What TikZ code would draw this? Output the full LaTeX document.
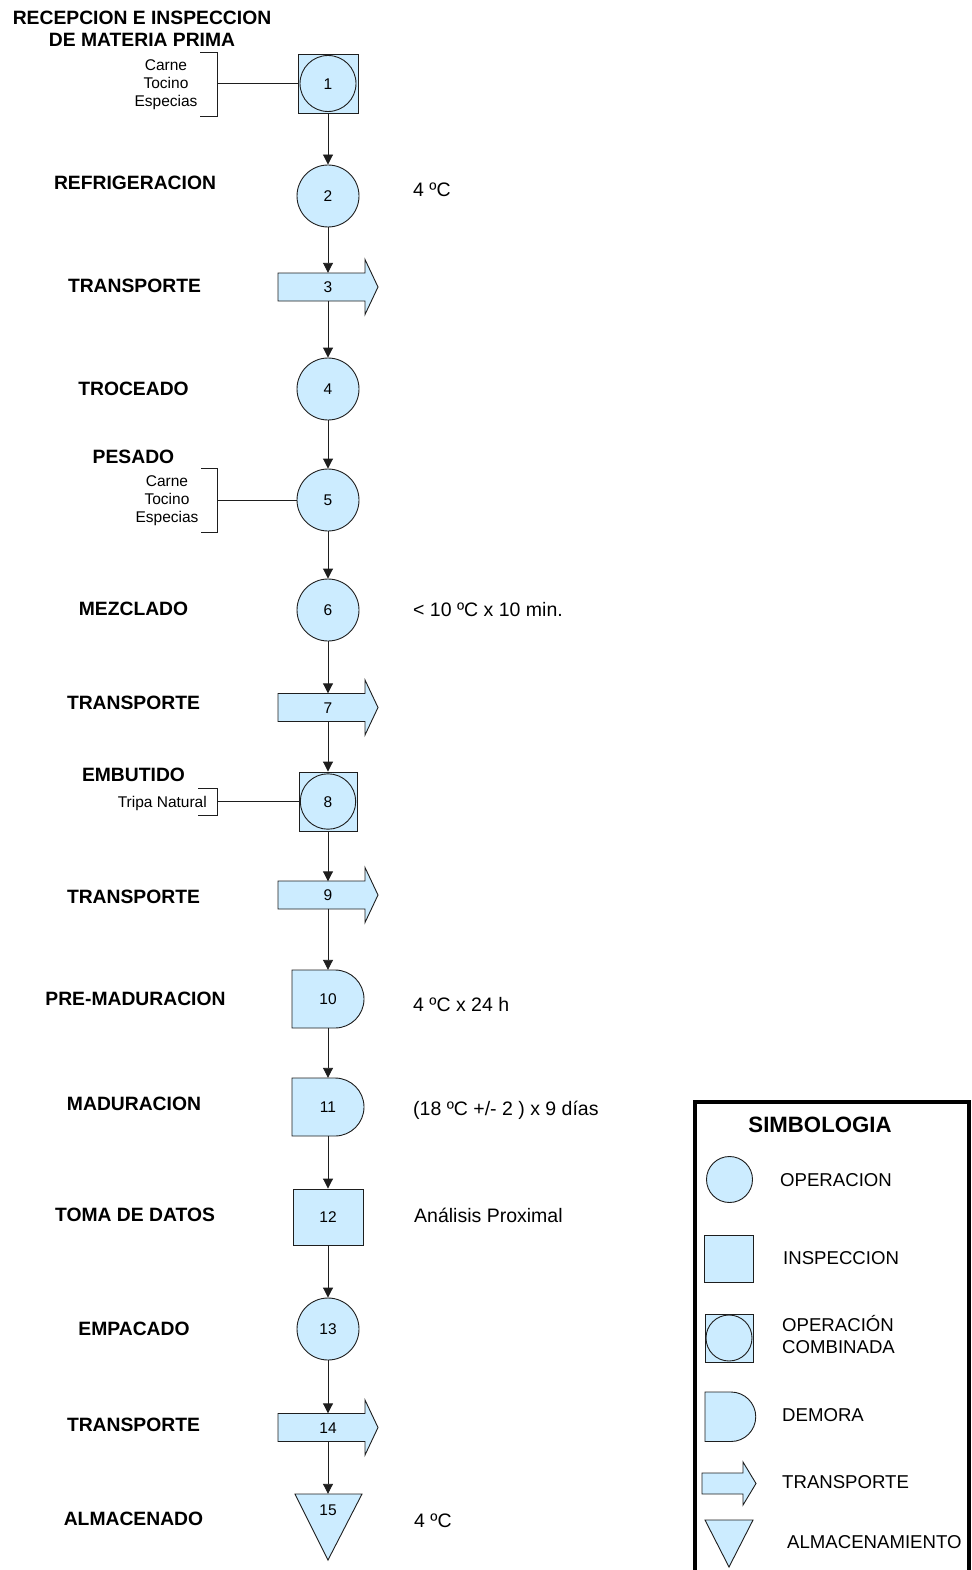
\documentclass[tikz,border=0pt]{standalone}
\usepackage{fontspec}
\setmainfont{Liberation Sans}
\usetikzlibrary{arrows.meta}
\definecolor{shpfill}{RGB}{204,236,255}
\definecolor{ln}{RGB}{30,30,30}
\newcommand\transp[1]{\path[shp] (278,#1-14) -- (365,#1-14) -- (365,#1-27.5) -- (378,#1) -- (365,#1+27.5) -- (365,#1+14) -- (278,#1+14) -- cycle;}
\newcommand\demora[1]{\path[shp] (292,#1-29) -- (335,#1-29) arc(-90:90:29) -- (292,#1+29) -- cycle;}
\begin{document}
\begin{tikzpicture}[x=1pt,y=-1pt,
 shp/.style={draw=ln,line width=0.9pt,fill=shpfill},
 num/.style={font=\fontsize{15.5}{18}\selectfont,text height=11.1pt,text depth=0pt,inner sep=0pt},
 op/.style={shp,num,circle,minimum size=#1},
 op/.default=62pt,
 insp/.style={shp,num,rectangle},
 comb/.style={shp,num,rectangle,path picture={\draw[ln,line width=0.9pt] (path picture bounding box.center) circle (#1);}},
 ghost/.style={num,rectangle,draw=none,fill=none},
 conn/.style={draw=ln,line width=0.9pt,-{Triangle[length=10pt,width=10pt]}},
 brk/.style={draw=ln,line width=0.9pt},
 lab/.style={font=\bfseries\fontsize{19.3}{22}\selectfont,text height=13.8pt,text depth=0pt,inner sep=0pt},
 ttl/.style={font=\bfseries\fontsize{19.3}{22}\selectfont,inner sep=0pt,align=center},
 note/.style={font=\fontsize{19.5}{22}\selectfont,text height=14pt,text depth=0pt,inner sep=0pt,anchor=west},
 small/.style={font=\fontsize{15.5}{18}\selectfont,inner sep=0pt,align=center},
 leg/.style={font=\fontsize{18.6}{22}\selectfont,text height=13.3pt,text depth=0pt,inner sep=0pt,anchor=west},
]
\useasboundingbox (0,0) rectangle (971,1570);

% shapes drawn directly
\transp{287}
\transp{707.5}
\transp{895}
\transp{1427.5}
\demora{999}
\demora{1107}
\path[shp] (295,1494) -- (362,1494) -- (328,1560) -- cycle;

% flow nodes
\node[comb=28, minimum width=60pt, minimum height=59pt] (n1) at (328,83.5) {1};
\node[op] (n2) at (328,196) {2};
\node[ghost, minimum width=100pt, minimum height=28pt] (n3) at (328,287) {3};
\node[op] (n4) at (328,389) {4};
\node[op] (n5) at (328,500) {5};
\node[op] (n6) at (328,610) {6};
\node[ghost, minimum width=100pt, minimum height=28pt] (n7) at (328,707.5) {7};
\node[comb=27.7, minimum width=58pt, minimum height=59pt] (n8) at (328,801.5) {8};
\node[ghost, minimum width=100pt, minimum height=27pt] (n9) at (328,895) {9};
\node[ghost, minimum width=72pt, minimum height=58pt] (n10) at (328,999) {10};
\node[ghost, minimum width=72pt, minimum height=58pt] (n11) at (328,1107) {11};
\node[insp, minimum width=70pt, minimum height=56pt] (n12) at (328,1217) {12};
\node[op] (n13) at (328,1329) {13};
\node[ghost, minimum width=100pt, minimum height=28pt] (n14) at (328,1427.5) {14};
\node[ghost, minimum width=67pt, minimum height=32pt] (n15) at (328,1510) {15};

\foreach \a/\b in {n1/n2,n2/n3,n3/n4,n4/n5,n5/n6,n6/n7,n7/n8,n8/n9,n9/n10,n10/n11,n11/n12,n12/n13,n13/n14,n14/n15}
  \draw[conn] (\a.south) -- (\b.north);

% brackets
\draw[brk] (200,52) -- (217,52) -- (217,116) -- (200,116);
\coordinate (b1) at (217,83.5);
\draw[brk] (b1) -- (n1.west);
\node[small] (m1) at (166,84.6) {Carne\\Tocino\\Especias};

\draw[brk] (201,468) -- (217,468) -- (217,532) -- (201,532);
\coordinate (b5) at (217,500);
\draw[brk] (b5) -- (n5.west);
\node[small] (m5) at (167,501) {Carne\\Tocino\\Especias};

\draw[brk] (198,788) -- (217,788) -- (217,815) -- (198,815);
\coordinate (b8) at (217,801.5);
\draw[brk] (b8) -- (n8.west);
\node[num, anchor=east] (m8) at (207,801.5) {Tripa Natural};

% left labels
\node[ttl] (l1) at (142,28.9) {RECEPCION E INSPECCION\\DE MATERIA PRIMA};
\node[lab] (l2) at (135,183) {REFRIGERACION};
\node[lab] (l3) at (134.5,286) {TRANSPORTE};
\node[lab] (l4) at (133.5,389) {TROCEADO};
\node[lab] (l5) at (133.5,457) {PESADO};
\node[lab] (l6) at (133.5,609) {MEZCLADO};
\node[lab] (l7) at (133.5,703) {TRANSPORTE};
\node[lab] (l8) at (133.5,775) {EMBUTIDO};
\node[lab] (l9) at (133.5,897) {TRANSPORTE};
\node[lab] (l10) at (135.5,999) {PRE-MADURACION};
\node[lab] (l11) at (134,1104) {MADURACION};
\node[lab] (l12) at (135,1215) {TOMA DE DATOS};
\node[lab] (l13) at (134,1329) {EMPACADO};
\node[lab] (l14) at (133.5,1425) {TRANSPORTE};
\node[lab] (l15) at (133.5,1519) {ALMACENADO};

% right notes
\node[note] (r2) at (413,190) {4 ºC};
\node[note] (r6) at (413,609) {< 10 ºC x 10 min.};
\node[note] (r10) at (413,1004) {4 ºC x 24 h};
\node[note] (r11) at (413,1108) {(18 ºC +/- 2 ) x 9 días};
\node[note] (r12) at (414,1215) {Análisis Proximal};
\node[note] (r15) at (414,1520) {4 ºC};

% legend
\draw[line width=4pt, black] (695,1585) -- (695,1102) -- (969,1102) -- (969,1585);
\node[font=\bfseries\fontsize{22.2}{26}\selectfont, text height=15.9pt, text depth=0pt, inner sep=0pt] (lgt) at (820,1125) {SIMBOLOGIA};
\node[op=46pt] (lg1) at (729.5,1179.5) {};
\node[insp, minimum width=49pt, minimum height=47pt] (lg2) at (728.5,1258.5) {};
\node[comb=23, minimum width=48pt, minimum height=48pt] (lg3) at (729,1338) {};
\path[shp] (705,1392) -- (731,1392) arc(-90:90:24.75) -- (705,1441.5) -- cycle;
\path[shp] (702,1473) -- (743,1473) -- (743,1462) -- (756,1483.5) -- (743,1505) -- (743,1494) -- (702,1494) -- cycle;
\path[shp] (705,1520) -- (753,1520) -- (729,1567) -- cycle;
\node[leg] (t1) at (780,1180) {OPERACION};
\node[leg] (t2) at (783,1258) {INSPECCION};
\node[font=\fontsize{18.6}{22}\selectfont, inner sep=0pt, align=left, anchor=west] (t3) at (782,1335) {OPERACIÓN\\COMBINADA};
\node[leg] (t4) at (782,1415) {DEMORA};
\node[leg] (t5) at (782,1482) {TRANSPORTE};
\node[leg] (t6) at (787,1542) {ALMACENAMIENTO};
\end{tikzpicture}
\end{document}
